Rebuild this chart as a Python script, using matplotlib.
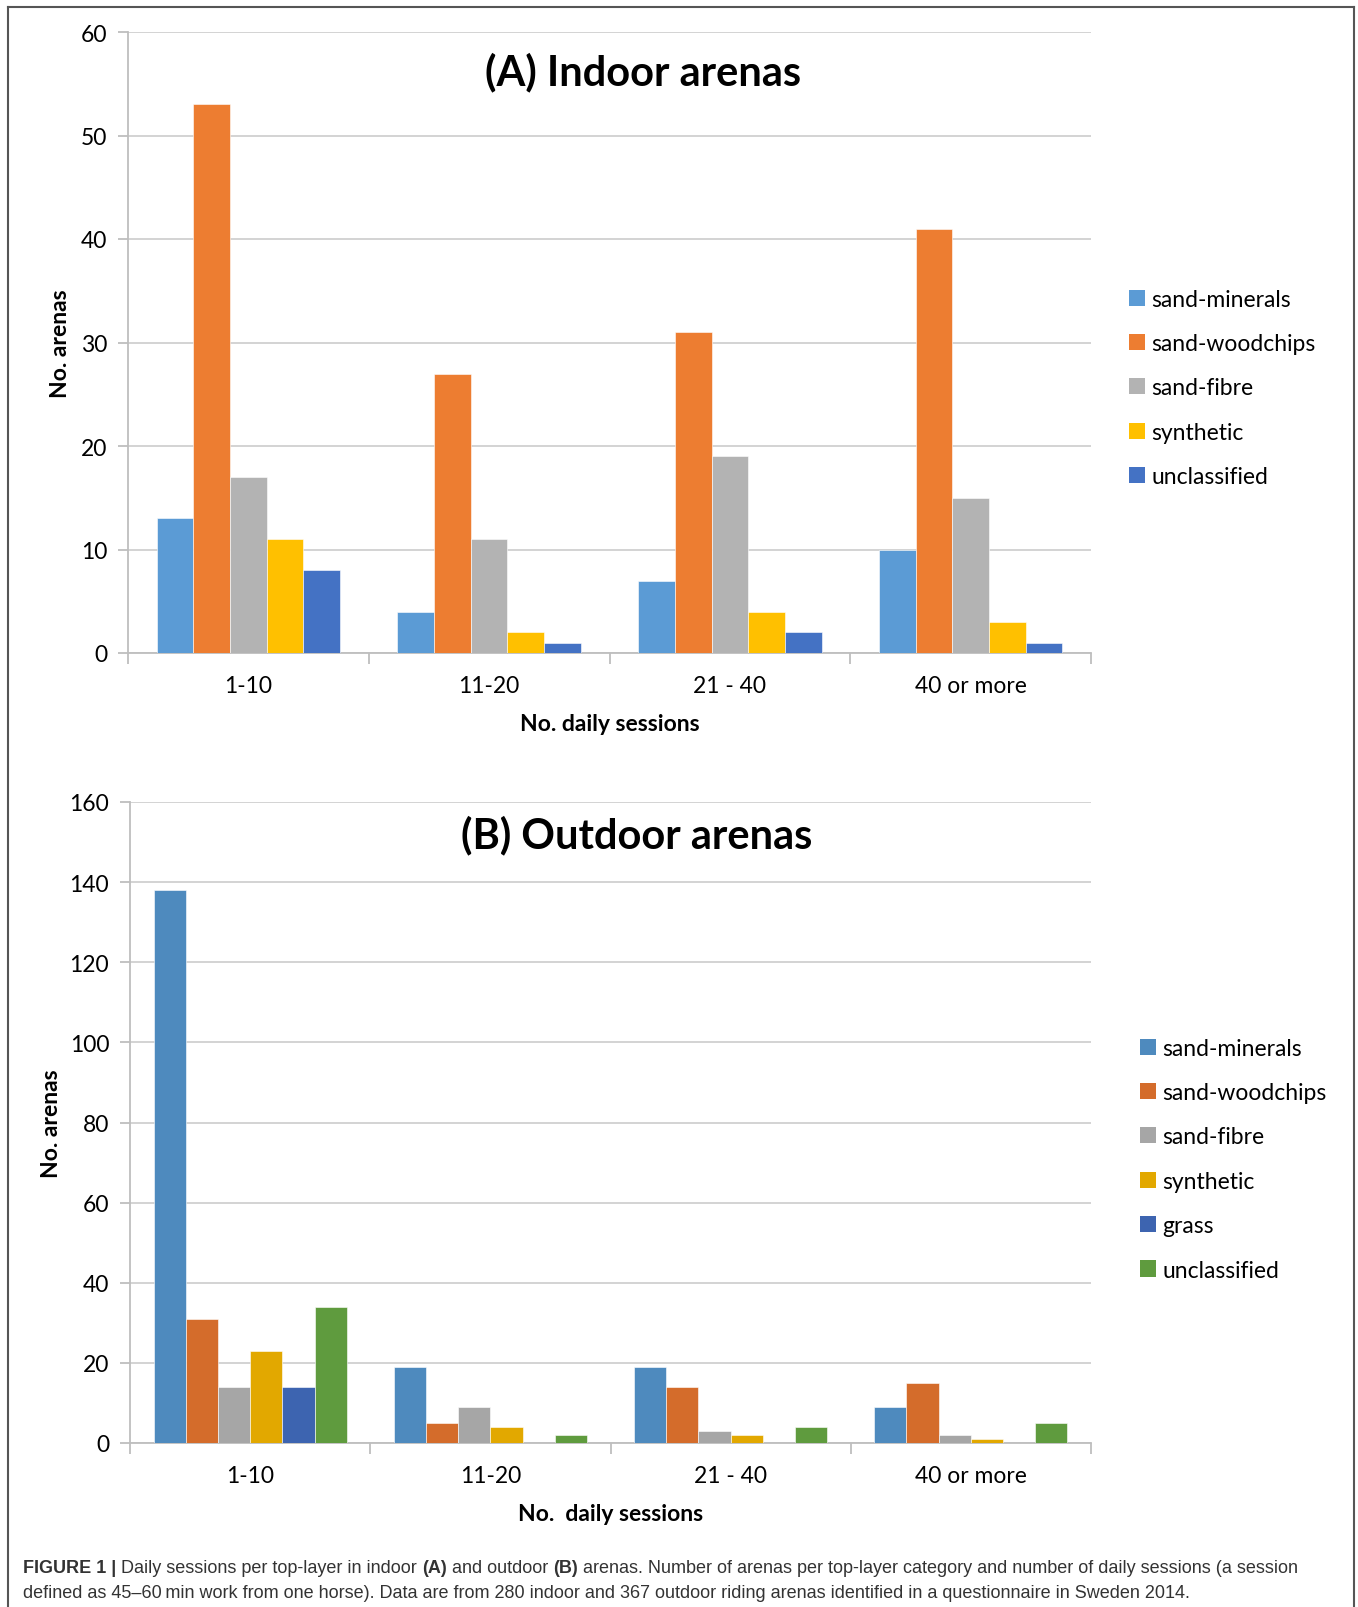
import numpy as np
import matplotlib.pyplot as plt
from matplotlib.lines import Line2D
from matplotlib.patches import Patch

plt.rcParams['font.family'] = ['Lato', 'DejaVu Sans']

# categories on the x axis
sessions = ["1-10", "11-20", "21 - 40", "40 or more"]

# (A) indoor arenas
indoor_labels = ["sand-minerals", "sand-woodchips", "sand-fibre", "synthetic", "unclassified"]
indoor_values = [
    [13, 4, 7, 10],    # sand-minerals
    [53, 27, 31, 41],  # sand-woodchips
    [17, 11, 19, 15],  # sand-fibre
    [11, 2, 4, 3],     # synthetic
    [8, 1, 2, 1],      # unclassified
]
indoor_colors = ["#5B9BD5", "#ED7D31", "#B3B3B3", "#FFC000", "#4472C4"]

# (B) outdoor arenas
outdoor_labels = ["sand-minerals", "sand-woodchips", "sand-fibre", "synthetic", "grass", "unclassified"]
outdoor_values = [
    [138, 19, 19, 9],  # sand-minerals
    [31, 5, 14, 15],   # sand-woodchips
    [14, 9, 3, 2],     # sand-fibre
    [23, 4, 2, 1],     # synthetic
    [14, 0, 0, 0],     # grass
    [34, 2, 4, 5],     # unclassified
]
outdoor_colors = ["#4E8ABE", "#D46C2B", "#A6A6A6", "#E2A800", "#3D64B0", "#5F9B3E"]

W, H = 1358, 1608
fig = plt.figure(figsize=(W / 100, H / 100), dpi=100)

grid_col = "#D0D0D0"
spine_col = "#BEBEBE"


def px_rect(x0, y0, x1, y1):
    # pixel box (top-left origin) -> figure fraction
    return [x0 / W, 1 - y1 / H, (x1 - x0) / W, (y1 - y0) / H]


def draw_panel(ax, values, labels, colors, group, ymax, ystep, title, title_xy, xlabel, leg_anchor):
    n = len(values)
    bw = group / n
    x = np.arange(len(sessions))
    for i, (vals, col) in enumerate(zip(values, colors)):
        ax.bar(x - group / 2 + bw * (i + 0.5), vals, width=bw, color=col,
               edgecolor="white", linewidth=0.4, zorder=3)
    ax.set_xlim(-0.5, len(sessions) - 0.5)
    ax.set_ylim(0, ymax)
    ax.set_yticks(np.arange(0, ymax + 1, ystep))
    ax.yaxis.grid(True, color=grid_col, linewidth=1.3, zorder=0)
    ax.set_axisbelow(True)
    for s in ["top", "right"]:
        ax.spines[s].set_visible(False)
    for s in ["left", "bottom"]:
        ax.spines[s].set_color(spine_col)
        ax.spines[s].set_linewidth(1.3)
    ax.tick_params(axis="y", length=7, width=1.3, color=spine_col, labelsize=16.5, pad=8)
    # category boundaries as ticks, labels centred in between
    ax.set_xticks(np.arange(-0.5, len(sessions)), [""] * (len(sessions) + 1))
    ax.set_xticks(x, sessions, minor=True)
    ax.tick_params(axis="x", which="major", length=8, width=1.3, color=spine_col)
    ax.tick_params(axis="x", which="minor", length=0, labelsize=16.5, pad=16)
    ax.set_ylabel("No. arenas", fontsize=16.5, fontweight="bold")
    ax.set_xlabel(xlabel, fontsize=16.5, fontweight="bold", labelpad=12)
    ax.text(title_xy[0], title_xy[1], title, transform=ax.transAxes, ha="center", va="center",
            fontsize=30, fontweight="bold")
    handles = [Patch(facecolor=c, edgecolor="none") for c in colors]
    ax.legend(handles, labels, loc="upper left", bbox_to_anchor=leg_anchor,
              bbox_transform=fig.transFigure, frameon=False, fontsize=16.5,
              handlelength=0.7, handleheight=0.7, handletextpad=0.3, labelspacing=1.02)


axA = fig.add_axes(px_rect(128, 33, 1091, 654))
draw_panel(axA, indoor_values, indoor_labels, indoor_colors, 0.762, 60, 10,
           "(A) Indoor arenas", (0.535, 0.937), "No. daily sessions", (1108 / W, 1 - 269 / H))
axA.yaxis.set_label_coords(-0.059, 0.5)

axB = fig.add_axes(px_rect(130, 803, 1091, 1444))
draw_panel(axB, outdoor_values, outdoor_labels, outdoor_colors, 0.804, 160, 20,
           "(B) Outdoor arenas", (0.527, 0.95), "No.  daily sessions", (1119 / W, 1 - 1018 / H))
axB.yaxis.set_label_coords(-0.071, 0.5)

# frame around the figure
fc = "#555555"
fig.add_artist(Line2D([8 / W, 8 / W], [0, 1 - 8 / H], color=fc, lw=1.5))
fig.add_artist(Line2D([1354 / W, 1354 / W], [0, 1 - 8 / H], color=fc, lw=1.5))
fig.add_artist(Line2D([8 / W, 1354 / W], [1 - 8 / H, 1 - 8 / H], color=fc, lw=1.5))

# caption, drawn piece by piece so the bold parts sit on the same baseline
cap_font = ["Liberation Sans Narrow", "Liberation Sans", "DejaVu Sans"]
cap_lines = [
    [("FIGURE 1 | ", "bold"), ("Daily sessions per top-layer in indoor ", "normal"), ("(A)", "bold"),
     (" and outdoor ", "normal"), ("(B)", "bold"),
     (" arenas. Number of arenas per top-layer category and number of daily sessions (a session", "normal")],
    [("defined as 45\u201360\u2009min work from one horse). Data are from 280 indoor and 367 outdoor "
      "riding arenas identified in a questionnaire in Sweden 2014.", "normal")],
]
renderer = fig.canvas.get_renderer()
for li, parts in enumerate(cap_lines):
    xpos = 23
    ypos = 1573 + li * 25
    for txt, wt in parts:
        t = fig.text(xpos / W, 1 - ypos / H, txt, fontsize=13.0, fontweight=wt,
                     family=cap_font, color="#333333", va="baseline", ha="left")
        xpos += t.get_window_extent(renderer).width

fig.savefig("out.png", dpi=100)
